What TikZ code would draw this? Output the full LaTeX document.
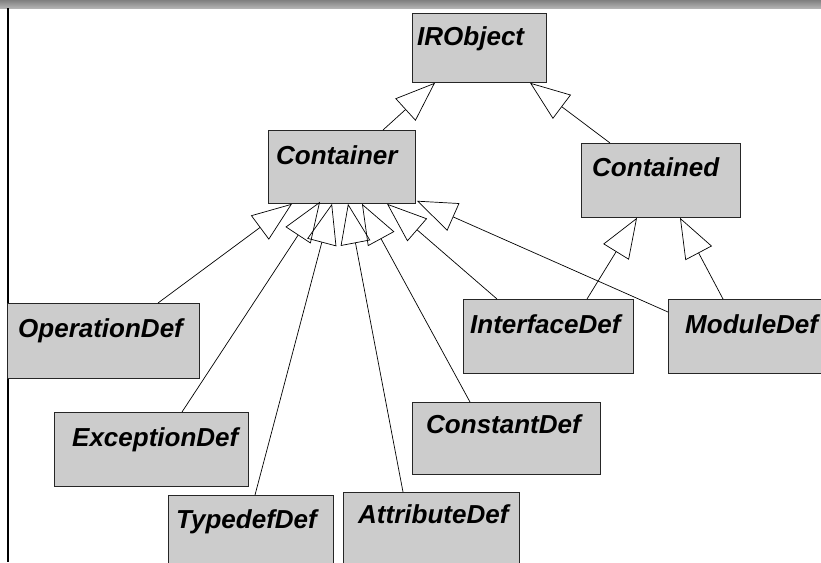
\documentclass[tikz,border=0pt]{standalone}
\usepackage{fontspec}
\setmainfont{Liberation Sans}
\usetikzlibrary{arrows.meta,calc}
\begin{document}
\begin{tikzpicture}[x=1pt,y=-1pt,
  cls/.style={draw=black!85, line width=0.8pt, fill=black!20, rectangle, inner sep=0pt, anchor=north west},
  txt/.style={anchor=base west, inner sep=0pt, font=\fontsize{26}{30}\selectfont\bfseries\itshape},
  gen/.style={draw=black, line width=0.7pt, line join=round, -{Triangle[open, length=40pt, width=30pt, line width=0.7pt]}}]
\useasboundingbox (0,0) rectangle (821,562);
\clip (0,0) rectangle (821,562);
\fill[white] (0,0) rectangle (821,562);
% top bar and left rule
\shade[top color=black!50, bottom color=black!30] (0,0) rectangle (821,8);
\draw[line width=2.5pt] (8,8) -- (8,562);
% classes
\node[cls, minimum width=134pt, minimum height=69pt] (irobject) at (412,13) {};
\node[txt] (irobject-t) at ($(irobject.north west)+(5,32)$) {IRObject};
\node[cls, minimum width=147pt, minimum height=73pt] (container) at (268,130) {};
\node[txt] (container-t) at ($(container.north west)+(8,34)$) {Container};
\node[cls, minimum width=159pt, minimum height=74pt] (contained) at (581,143) {};
\node[txt] (contained-t) at ($(contained.north west)+(11,33)$) {Contained};
\node[cls, minimum width=192pt, minimum height=75pt] (operationdef) at (7,303) {};
\node[txt] (operationdef-t) at ($(operationdef.north west)+(11,34)$) {OperationDef};
\node[cls, minimum width=170pt, minimum height=74pt] (interfacedef) at (463,299) {};
\node[txt] (interfacedef-t) at ($(interfacedef.north west)+(7,34)$) {InterfaceDef};
\node[cls, minimum width=170pt, minimum height=74pt] (moduledef) at (668,299) {};
\node[txt] (moduledef-t) at ($(moduledef.north west)+(17,34)$) {ModuleDef};
\node[cls, minimum width=194pt, minimum height=74pt] (exceptiondef) at (54,412) {};
\node[txt] (exceptiondef-t) at ($(exceptiondef.north west)+(18,34)$) {ExceptionDef};
\node[cls, minimum width=188pt, minimum height=72pt] (constantdef) at (412,402) {};
\node[txt] (constantdef-t) at ($(constantdef.north west)+(14,31)$) {ConstantDef};
\node[cls, minimum width=165pt, minimum height=80pt] (typedefdef) at (168,495) {};
\node[txt] (typedefdef-t) at ($(typedefdef.north west)+(8,33)$) {TypedefDef};
\node[cls, minimum width=176pt, minimum height=80pt] (attributedef) at (343,492) {};
\node[txt] (attributedef-t) at ($(attributedef.north west)+(15,31)$) {AttributeDef};
% generalizations
\draw[gen] ($(container.north west)+(115,0)$) -- ($(irobject.south west)+(23,0)$);
\draw[gen] ($(contained.north west)+(29,0)$) -- ($(irobject.south west)+(118,0)$);
\draw[gen] ($(operationdef.north west)+(151,0)$) -- ($(container.south west)+(24,0)$);
\draw[gen] ($(exceptiondef.north west)+(128,0)$) -- ($(container.south west)+(52,-2)$);
\draw[gen] ($(typedefdef.north west)+(87,0)$) -- ($(container.south west)+(64,0)$);
\draw[gen] ($(attributedef.north west)+(60,0)$) -- ($(container.south west)+(80,0)$);
\draw[gen] ($(constantdef.north west)+(58,0)$) -- ($(container.south west)+(94,0)$);
\draw[gen] ($(interfacedef.north west)+(34,0)$) -- ($(container.south west)+(119,0)$);
\draw[gen] ($(moduledef.north west)+(0,13)$) -- ($(container.south east)+(1,-3)$);
\draw[gen] ($(interfacedef.north west)+(124,0)$) -- ($(contained.south west)+(56,0)$);
\draw[gen] ($(moduledef.north west)+(55,0)$) -- ($(contained.south west)+(99,0)$);
\end{tikzpicture}
\end{document}
